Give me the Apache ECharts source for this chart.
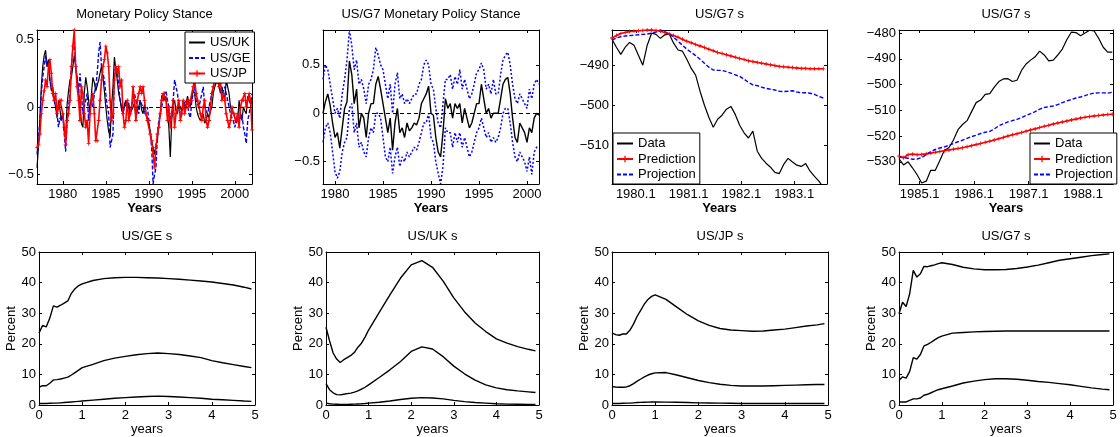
<!DOCTYPE html>
<html><head><meta charset="utf-8">
<script src="https://cdn.jsdelivr.net/npm/echarts@6/dist/echarts.min.js"></script>
<style>html,body{margin:0;padding:0;background:#fff}#c{width:1120px;height:437px}</style>
</head><body><div id="c"></div>
<script>
// ---------------- DATA ----------------
// Panel 1: Monetary Policy Stance (bi-monthly, from 1977.0)
const stanceStart = 1977.0;
const stanceStep = 1 / 6;
const stanceUK = [
 -0.45,-0.3,-0.1,0.15,0.3,0.38,   0.42,0.3,0.35,0.2,0.12,0.15,   0.05,0.0,-0.08,0.05,-0.02,-0.1,
 -0.05,-0.18,-0.22,0.02,0.12,0.2, 0.22,0.3,0.38,0.3,0.22,0.12,   0.02,-0.12,-0.15,0.1,0.22,0.15,
 0.05,-0.05,0.1,0.22,0.18,0.12,   0.12,0.2,0.25,0.3,0.22,0.12,   0.0,-0.1,-0.18,-0.22,0.0,0.15,
 0.37,0.28,0.2,0.1,0.05,-0.02,    -0.05,0.02,0.05,-0.02,0.03,-0.05, -0.05,0.0,0.03,-0.08,-0.03,0.0,
 0.05,-0.02,-0.05,0.02,-0.05,-0.08, -0.12,-0.18,-0.25,-0.3,-0.35,-0.28, -0.25,-0.12,-0.05,0.08,0.1,0.05,
 0.08,-0.05,-0.15,-0.37,-0.1,0.02, 0.05,-0.03,-0.05,0.02,0.0,-0.03, 0.05,0.0,0.02,0.08,0.03,0.0,
 0.08,0.12,0.1,0.0,-0.05,-0.08,   -0.1,-0.08,-0.05,-0.12,-0.1,-0.05, -0.08,-0.03,0.0,0.1,0.15,0.18,
 0.2,0.15,0.1,0.15,0.1,0.05,      0.2,0.15,0.1,0.0,-0.03,-0.05,  -0.08,-0.12,-0.1,0.05,-0.05,-0.1,
 0.0,-0.03,-0.05,0.08,0.05,0.02,  0.05];
const stanceGE = [
 -0.35,-0.25,-0.1,0.1,0.22,0.3,   0.38,0.3,0.32,0.2,0.15,0.1,    0.05,0.0,-0.05,-0.15,-0.08,-0.1,
 -0.05,-0.2,-0.33,-0.1,0.0,0.1,   0.3,0.42,0.5,0.3,0.2,0.1,      0.25,0.1,-0.05,0.0,0.05,0.1,
 -0.1,0.0,0.05,0.0,0.1,0.15,      0.25,0.4,0.48,0.3,0.25,0.2,    0.1,0.0,-0.05,-0.3,-0.25,-0.2,
 0.25,0.3,0.28,0.15,0.05,0.0,     -0.05,0.0,0.02,0.05,-0.02,-0.05, 0.0,0.05,0.1,0.05,0.0,-0.05,
 0.05,0.02,0.0,-0.05,-0.02,0.0,   -0.1,-0.2,-0.3,-0.57,-0.5,-0.45, -0.2,-0.1,-0.05,0.0,0.05,0.1,
 0.12,0.05,0.0,-0.1,-0.05,0.05,   0.2,0.15,0.1,0.0,-0.03,-0.05,  0.0,0.03,0.05,0.02,-0.05,-0.08,
 0.05,0.1,0.15,0.05,0.02,0.0,     0.05,0.1,0.15,0.0,-0.03,-0.05, -0.05,0.05,0.1,0.15,0.18,0.2,
 0.2,0.18,0.15,0.1,0.12,0.15,     0.1,0.05,0.0,-0.05,-0.08,-0.1, -0.15,-0.1,-0.05,-0.1,-0.08,-0.05,
 -0.15,-0.2,-0.27,-0.1,-0.05,0.0, 0.1];
const stanceJP = [
 -0.3,-0.28,-0.2,-0.05,0.05,0.12, 0.2,0.15,0.3,0.35,0.25,0.1,    0.05,0.1,-0.05,0.0,0.05,0.05,
 -0.05,-0.15,-0.28,-0.1,-0.05,0.05, 0.3,0.45,0.57,0.3,0.15,0.05, -0.1,0.15,0.1,-0.05,-0.15,-0.1,
 -0.27,-0.05,0.05,0.1,-0.05,-0.25, -0.25,-0.1,0.05,0.2,0.3,0.35, 0.45,0.4,0.3,0.05,-0.1,-0.05,
 0.2,0.3,0.25,0.3,0.15,0.2,       -0.05,-0.15,-0.1,0.05,-0.1,-0.05, 0.0,0.15,0.05,-0.1,0.05,0.1,
 0.15,0.1,0.15,0.05,-0.05,-0.1,   -0.1,-0.2,-0.25,-0.35,-0.45,-0.3, -0.2,-0.15,-0.05,0.05,0.1,0.1,
 0.05,-0.1,0.0,-0.15,-0.05,0.05,  -0.15,-0.05,0.0,0.05,-0.1,-0.05, 0.05,-0.05,0.0,0.05,0.0,0.05,
 0.05,0.15,0.2,0.1,0.05,0.0,      -0.05,-0.1,0.0,0.05,-0.1,-0.15, -0.1,0.0,0.1,0.15,0.2,0.2,
 0.2,0.15,0.2,0.05,0.1,0.05,      -0.05,-0.1,-0.15,-0.1,0.0,-0.05, -0.05,-0.1,-0.05,-0.15,0.0,0.05,
 0.05,0.1,0.0,0.05,0.1,0.05,      -0.17];

// Panel 2: US/G7 Monetary Policy Stance with bands (quarterly, from 1978.75)
const g7Start = 1978.75;
const g7Step = 0.25;
const g7Stance = [0.0,
 0.12,0.2,0.08,-0.1, -0.25,-0.2,-0.36,-0.15, 0.05,0.12,0.54,0.4, 0.1,0.25,-0.15,0.0,
 -0.05,-0.25,0.0,0.1, 0.1,0.3,0.38,0.25, 0.1,-0.05,-0.2,-0.05, -0.38,-0.1,0.05,-0.2,
 -0.15,-0.25,-0.1,-0.18, -0.15,-0.1,-0.12,-0.05, 0.1,0.15,0.2,0.28, 0.0,-0.02,-0.25,-0.4,
 -0.45,-0.2,0.15,0.05, 0.1,-0.05,0.1,0.05, 0.1,-0.1,0.05,-0.05, -0.15,-0.1,0.0,0.1,
 0.1,0.3,0.15,0.0, 0.05,-0.05,0.0,0.0, 0.0,0.15,0.3,0.35, 0.37,0.2,-0.05,-0.25,
 -0.3,-0.1,-0.15,-0.2, -0.3,-0.15,-0.2,-0.05, 0.0,-0.02];
const g7Upper = [0.35,
 0.5,0.45,0.3,0.15, 0.0,0.05,-0.05,0.2, 0.35,0.55,0.86,0.7, 0.45,0.55,0.3,0.35,
 0.25,0.1,0.3,0.35, 0.45,0.68,0.6,0.5, 0.45,0.3,0.15,0.3, 0.0,0.3,0.42,0.15,
 0.2,0.1,0.15,0.1, 0.15,0.2,0.2,0.3, 0.35,0.5,0.55,0.5, 0.3,0.25,0.05,-0.1,
 -0.15,0.1,0.35,0.35, 0.4,0.25,0.38,0.3, 0.45,0.25,0.35,0.25, 0.15,0.2,0.3,0.42,
 0.45,0.52,0.45,0.25, 0.3,0.2,0.35,0.2, 0.2,0.4,0.55,0.6, 0.63,0.5,0.3,0.15,
 0.1,0.2,0.15,0.1, 0.05,0.25,0.15,0.3, 0.35,0.3];
const g7Lower = [-0.3,
 -0.15,-0.1,-0.2,-0.4, -0.6,-0.67,-0.6,-0.4, -0.3,-0.25,0.05,0.1, -0.2,-0.1,-0.35,-0.3,
 -0.4,-0.45,-0.25,-0.15, -0.2,0.0,0.0,-0.05, -0.25,-0.45,-0.5,-0.35, -0.62,-0.45,-0.35,-0.55,
 -0.45,-0.5,-0.4,-0.45, -0.4,-0.35,-0.38,-0.3, -0.2,-0.1,-0.1,0.0, -0.25,-0.3,-0.5,-0.62,
 -0.73,-0.55,-0.15,-0.2, -0.2,-0.35,-0.2,-0.3, -0.2,-0.35,-0.25,-0.35, -0.45,-0.4,-0.3,-0.2,
 -0.15,-0.05,-0.15,-0.25, -0.2,-0.3,-0.25,-0.3, -0.25,-0.15,0.0,0.05, 0.05,-0.1,-0.3,-0.45,
 -0.5,-0.4,-0.45,-0.5, -0.6,-0.45,-0.63,-0.4, -0.35,-0.35];

// Panel 3: US/G7 s, 1979-1983 (monthly, from 1979.55)
const sAStart = 1979.55;
const sAData = [-483.5,-485.5,-487.3,-485.5,-484.3,-485.0,-487.5,-490.0,-485.0,-482.0,
 -482.3,-483.3,-482.4,-482.2,-484.5,-486.2,-486.5,-488.5,-490.8,-492.5,
 -496.5,-500.0,-503.0,-505.5,-503.5,-502.5,-501.0,-500.3,-502.3,-505.0,
 -506.9,-508.2,-506.5,-511.5,-513.3,-514.5,-515.5,-516.8,-517.1,-514.8,
 -513.3,-514.2,-515.0,-515.3,-514.6,-516.5,-517.8,-519.0,-520.5];
const sAPred = [-483.2,-482.6,-482.1,-481.8,-481.6,-481.5,-481.4,-481.3,-481.2,-481.2,
 -481.3,-481.5,-481.8,-482.2,-482.6,-483.0,-483.5,-484.0,-484.4,-484.8,
 -485.2,-485.6,-486.0,-486.4,-486.8,-487.1,-487.4,-487.7,-488.0,-488.3,
 -488.6,-488.9,-489.1,-489.3,-489.5,-489.7,-489.9,-490.1,-490.3,-490.4,
 -490.5,-490.6,-490.7,-490.8,-490.8,-490.9,-490.9,-490.9,-490.9];
const sAProj = [-483.7,-483.2,-482.9,-482.7,-482.6,-482.5,-482.4,-482.3,-482.2,-482.0,
 -481.7,-481.2,-481.6,-482.2,-483.0,-484.0,-485.0,-486.0,-486.8,-487.6,
 -488.5,-489.5,-490.5,-491.2,-491.3,-491.3,-491.6,-492.0,-492.4,-492.8,
 -493.5,-494.3,-494.9,-495.1,-495.5,-495.8,-496.0,-496.2,-496.5,-496.6,
 -496.5,-496.4,-496.7,-496.9,-496.9,-497.0,-497.3,-497.8,-498.2];

// Panel 4: US/G7 s, 1984-1988 (monthly, from 1984.62)
const sBStart = 1984.62;
const sBData = [-528.8,-531.2,-530.0,-532.4,-535.0,-538.2,-537.5,-533.3,-533.3,-529.5,
 -525.5,-524.5,-521.5,-517.5,-515.5,-514.0,-510.5,-507.0,-506.0,-503.8,
 -503.5,-501.0,-498.8,-497.8,-497.7,-498.8,-498.3,-494.5,-492.0,-490.5,
 -489.2,-487.0,-488.5,-490.8,-490.5,-488.5,-486.2,-482.5,-479.6,-479.8,
 -481.0,-480.0,-478.9,-479.2,-482.0,-485.5,-487.4,-487.4];
const sBPred = [-527.8,-528.4,-527.2,-527.0,-527.2,-527.1,-526.9,-526.6,-526.3,-526.0,
 -525.7,-525.4,-525.1,-524.8,-524.5,-524.1,-523.7,-523.3,-522.9,-522.4,
 -522.0,-521.5,-521.0,-520.5,-520.0,-519.5,-519.1,-518.6,-518.1,-517.6,
 -517.2,-516.7,-516.2,-515.8,-515.3,-514.9,-514.5,-514.1,-513.7,-513.4,
 -513.0,-512.7,-512.4,-512.2,-512.0,-511.8,-511.6,-511.5];
const sBProj = [-528.0,-528.3,-528.6,-529.0,-528.9,-528.3,-527.2,-526.0,-525.2,-524.6,
 -524.2,-523.6,-522.9,-522.2,-521.6,-520.9,-520.2,-519.7,-519.0,-518.5,
 -518.2,-517.2,-516.0,-515.2,-514.5,-514.0,-513.5,-512.8,-512.0,-511.3,
 -510.5,-509.5,-508.9,-508.6,-508.3,-507.8,-507.0,-506.3,-505.8,-505.2,
 -504.8,-504.3,-503.7,-503.3,-503.2,-503.2,-503.3,-503.0];

// Bottom row: variance decompositions (percent) vs horizon in years
const horizon = [0,0.083,0.167,0.25,0.333,0.417,0.5,0.583,0.667,0.75,0.833,0.917,1,
 1.25,1.5,1.75,2,2.25,2.5,2.75,3,3.25,3.5,3.75,4,4.25,4.5,4.75,4.917];
const geTop = [23.5,26,25.5,28.4,32.4,32,32.6,33.3,34,36.5,38,39,39.6,40.7,41.3,41.6,41.7,41.7,41.6,41.5,41.3,41.1,40.8,40.5,40.2,39.7,39.2,38.5,37.9];
const geMid = [5.8,6.3,6.3,7.1,8.2,8.3,8.5,8.8,9.1,9.8,10.6,11.4,12.2,13.3,14.5,15.3,15.9,16.4,16.8,17,16.8,16.5,16,15.5,14.5,13.8,13.2,12.6,12.2];
const geBot = [0.5,0.5,0.5,0.55,0.6,0.6,0.7,0.8,0.9,1.0,1.1,1.2,1.3,1.6,1.9,2.2,2.4,2.6,2.8,2.9,2.8,2.6,2.4,2.2,1.9,1.7,1.5,1.3,1.2];
const ukTop = [25.4,21,17,15,13.9,14.8,15.5,16.2,17.2,18.9,20.2,22.2,24.5,30.3,36,41.5,45.8,47.2,45,40.5,35,30.5,26.8,24,21.6,20.2,19.1,18.2,17.7];
const ukMid = [7,5,4,3.4,3.3,3.5,3.7,3.9,4.2,4.6,5.2,5.8,6.6,9,11.5,14.2,17.5,19,18.3,15.8,12.7,10.2,8.1,6.6,5.6,5,4.6,4.3,4.1];
const ukBot = [0.6,0.4,0.3,0.25,0.2,0.2,0.2,0.25,0.3,0.35,0.4,0.5,0.6,0.9,1.3,1.8,2.2,2.4,2.3,2.0,1.5,1.1,0.8,0.6,0.4,0.3,0.25,0.2,0.2];
const jpTop = [23.6,23,22.8,23.2,23.2,24.5,26.5,29,31,33,34.5,35.5,36,34.5,32,29.5,27.5,26,25,24.5,24.3,24.1,24.2,24.5,24.8,25.3,25.8,26.2,26.6];
const jpMid = [6,5.9,5.8,5.8,5.9,6.3,7,7.8,8.5,9.2,9.8,10.2,10.5,10.6,9.8,8.9,8,7.3,6.8,6.4,6.2,6.2,6.2,6.3,6.4,6.5,6.6,6.7,6.7];
const jpBot = [0.5,0.5,0.5,0.55,0.6,0.6,0.7,0.8,0.85,0.9,0.95,1.0,1.0,0.95,0.9,0.8,0.7,0.65,0.6,0.55,0.5,0.5,0.5,0.5,0.5,0.5,0.5,0.5,0.5];
const g7Top = [29.8,33.6,32.2,36.4,44,41.8,42.9,45.3,45.2,45.5,45.8,46.2,46.5,45.9,45,44.5,44.2,44.2,44.3,44.6,45.1,45.7,46.5,47.3,47.8,48.3,48.8,49.2,49.4];
const g7Mid = [8,9.2,8.8,11,15.5,15,16.5,19.3,19.8,20.5,21.3,22,22.5,23.5,23.7,23.9,24,24.1,24.2,24.2,24.2,24.2,24.2,24.2,24.2,24.2,24.2,24.2,24.2];
const g7Bot = [1,1,1,1.5,2,2,2.3,3.2,3.5,4,4.5,5,5.3,6.2,7.2,7.8,8.3,8.6,8.6,8.4,8.1,7.7,7.4,7,6.6,6.1,5.6,5.2,5.0];

const titles = ['Monetary Policy Stance','US/G7 Monetary Policy Stance','US/G7 s','US/G7 s','US/GE s','US/UK s','US/JP s','US/G7 s'];
const stanceTicks = [1980,1985,1990,1995,2000];
const sATicks = [1980,1981,1982,1983];
const sBTicks = [1985,1986,1987,1988];
const stanceYTicks = [-0.5,0,0.5];
const sAYTicks = [-510,-500,-490];
const sBYTicks = [-530,-520,-510,-500,-490,-480];
const horizonTicks = [0,1,2,3,4,5];
const percentTicks = [0,10,20,30,40,50];

// ---------------- CHART ----------------
const FONT = '"Liberation Sans", Arial, Helvetica, sans-serif';
const BLACK = '#000', BLUE = '#0000ff', RED = '#ff0000';
const PLUS = 'path://M2,0H3V2H5V3H3V5H2V3H0V2H2Z';

const grids = [
  {left:37, top:30, width:215, height:154},
  {left:323, top:30, width:216, height:154},
  {left:612, top:30, width:215, height:154},
  {left:899, top:30, width:214, height:154},
  {left:39, top:252, width:216, height:153},
  {left:326, top:252, width:213, height:153},
  {left:612, top:252, width:216, height:153},
  {left:899, top:252, width:214, height:153}
];

const minus = v => (v < 0 ? '\u2212' : '') + Math.abs(v);
const quarter = v => v + '.1';

function axisPair(kind, i, min, max, ticks, fmt, name, nameStyle, nameGap) {
  const mk = (pos, labels) => ({
    gridIndex: i, type: 'value', position: pos, min: min, max: max,
    splitLine: {show: false},
    axisLine: {show: true, onZero: false, lineStyle: {color: BLACK, width: 1}},
    axisTick: {show: true, inside: true, length: 3, customValues: ticks, lineStyle: {color: BLACK, width: 1}},
    axisLabel: labels ? {show: true, customValues: ticks, formatter: fmt, color: BLACK, fontSize: 13,
      fontFamily: FONT, margin: kind === 'x' ? 4 : 3} : {show: false},
    name: labels ? name : '', nameLocation: 'middle', nameGap: nameGap,
    nameTextStyle: Object.assign({color: BLACK, fontSize: 13, fontFamily: FONT}, nameStyle || {})
  });
  if (kind === 'x') return [mk('bottom', true), mk('top', false)];
  return [mk('left', true), mk('right', false)];
}

const xAxes = [], yAxes = [];
const topX = [[1977,2002,stanceTicks,String],[1978.75,2001.25,stanceTicks,String],[1979.55,1983.62,sATicks,quarter],[1984.62,1988.55,sBTicks,quarter]];
const topY = [[-0.57,0.57,stanceYTicks],[-0.73,0.86,stanceYTicks],[-519.7,-481.2,sAYTicks],[-538.6,-478.8,sBYTicks]];
for (let i = 0; i < 4; i++) {
  xAxes.push(...axisPair('x', i, topX[i][0], topX[i][1], topX[i][2], topX[i][3], 'Years', {fontWeight: 'bold'}, 13));
  yAxes.push(...axisPair('y', i, topY[i][0], topY[i][1], topY[i][2], minus, '', null, 20));
}
for (let i = 4; i < 8; i++) {
  xAxes.push(...axisPair('x', i, 0, 5, horizonTicks, String, 'years', null, 17));
  yAxes.push(...axisPair('y', i, 0, 50, percentTicks, String, 'Percent', null, 19));
}

function series(name, i, xs, ys, color, width, dash, symbol, extra) {
  return Object.assign({
    type: 'line', name: name, xAxisIndex: 2 * i, yAxisIndex: 2 * i,
    data: ys.map((y, k) => [xs[k], y]),
    symbol: symbol || 'none', symbolSize: 4, showSymbol: !!symbol,
    itemStyle: {color: color},
    lineStyle: {color: color, width: width, type: dash || 'solid'},
    animation: false, silent: true, clip: true
  }, extra || {});
}
const timeline = (start, step, n) => Array.from({length: n}, (_, k) => start + k * step);
const zeroLine = {markLine: {silent: true, symbol: 'none', label: {show: false},
  lineStyle: {color: BLACK, type: [4, 3], width: 1}, data: [{yAxis: 0}]}};

const tStance = timeline(stanceStart, stanceStep, stanceUK.length);
const tG7 = timeline(g7Start, g7Step, g7Stance.length);
const tA = timeline(sAStart, 1 / 12, sAData.length);
const tB = timeline(sBStart, 1 / 12, sBData.length);

const allSeries = [
  series('US/UK', 0, tStance, stanceUK, BLACK, 1.2, 'solid', null, zeroLine),
  series('US/GE', 0, tStance, stanceGE, BLUE, 1.4, [4, 2]),
  series('US/JP', 0, tStance, stanceJP, RED, 1.6, 'solid', PLUS),
  series('g7up', 1, tG7, g7Upper, BLUE, 1.5, [2, 2]),
  series('g7lo', 1, tG7, g7Lower, BLUE, 1.5, [2, 2]),
  series('g7', 1, tG7, g7Stance, BLACK, 1.4, 'solid', null, zeroLine),
  series('Data', 2, tA, sAData, BLACK, 1.2),
  series('Prediction', 2, tA, sAPred, RED, 1.6, 'solid', PLUS),
  series('Projection', 2, tA, sAProj, BLUE, 1.4, [4, 2]),
  series('Data', 3, tB, sBData, BLACK, 1.2),
  series('Prediction', 3, tB, sBPred, RED, 1.6, 'solid', PLUS),
  series('Projection', 3, tB, sBProj, BLUE, 1.4, [4, 2])
];
const bottomSets = [[geTop, geMid, geBot], [ukTop, ukMid, ukBot], [jpTop, jpMid, jpBot], [g7Top, g7Mid, g7Bot]];
bottomSets.forEach((set, j) => set.forEach((ys, m) => allSeries.push(series('vd' + j + m, 4 + j, horizon, ys, BLACK, 1.4))));

const lineOnly = name => ({name: name, itemStyle: {opacity: 0, color: 'rgba(0,0,0,0)', borderWidth: 0}});
const legendStyle = (data, left, top) => ({
  data: data, left: left, top: top, orient: 'vertical', selectedMode: false,
  backgroundColor: '#fff', borderColor: BLACK, borderWidth: 1, borderRadius: 0,
  padding: [3, 4, 2, 3], itemGap: 0.5, itemWidth: 16, itemHeight: 8, itemTextGap: 3,
  textStyle: {fontSize: 13, color: BLACK, fontFamily: FONT, lineHeight: 15}
});

const option = {
  animation: false,
  backgroundColor: '#fff',
  grid: grids.map(g => Object.assign({show: false, containLabel: false}, g)),
  xAxis: xAxes,
  yAxis: yAxes,
  legend: [
    legendStyle([lineOnly('US/UK'), lineOnly('US/GE'), 'US/JP'], 185, 32),
    legendStyle([lineOnly('Data'), 'Prediction', lineOnly('Projection')], 613, 133),
    legendStyle([lineOnly('Data'), 'Prediction', lineOnly('Projection')], 1030, 133)
  ],
  graphic: titles.map((t, i) => ({
    type: 'text', x: grids[i].left + grids[i].width / 2, y: i < 4 ? 14 : 236, silent: true,
    style: {text: t, font: '13px ' + FONT, fill: BLACK, align: 'center', verticalAlign: 'middle'}
  })),
  series: allSeries
};
const chart = echarts.init(document.getElementById('c'), null, {renderer: 'canvas'});
chart.setOption(option);
</script></body></html>
